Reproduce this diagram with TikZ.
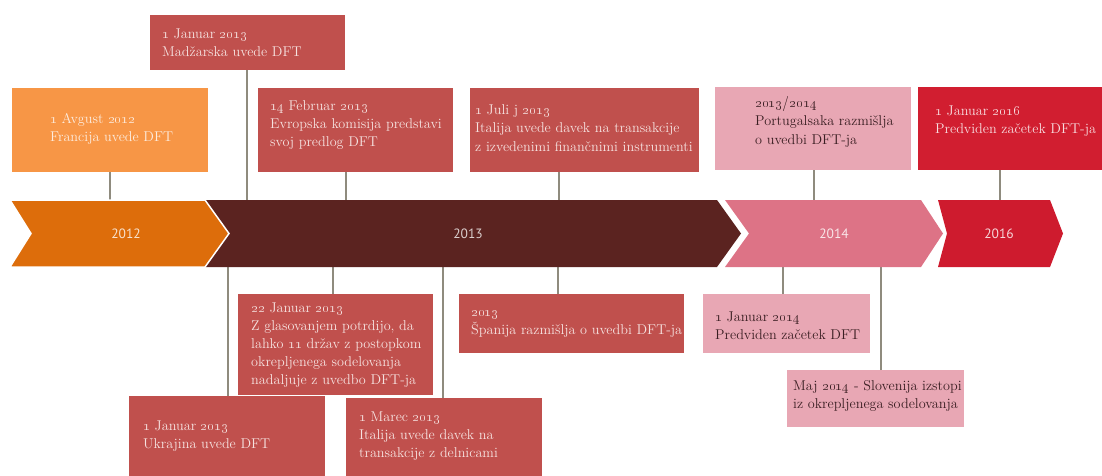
\documentclass[tikz,border=0pt]{standalone}
\usepackage{fontspec}
\newfontfamily\yearfont{PT Sans}
% old-style figures from the TS1 companion of Latin Modern
\newcommand\osn[1]{{\fontencoding{TS1}\fontfamily{lmr}\selectfont #1}}
\definecolor{boxred}{HTML}{C0504D}
\definecolor{boxorange}{HTML}{F79646}
\definecolor{boxpink}{HTML}{E8A7B4}
\definecolor{boxcrimson}{HTML}{D11E30}
\definecolor{band12}{HTML}{DD6D0B}
\definecolor{band13}{HTML}{5B2320}
\definecolor{band14}{HTML}{DD7386}
\definecolor{band16}{HTML}{CE1B2E}
\definecolor{linkgray}{HTML}{8F8B7E}
\definecolor{lighttext}{HTML}{F6E2E0}
\definecolor{darktext}{HTML}{3A1E22}
\begin{document}
\begin{tikzpicture}[x=1pt,y=-1pt,
  box/.style={anchor=north west, inner sep=0pt, draw=none},
  txt/.style={anchor=west, align=left, inner sep=0pt,
    font=\fontsize{14.2}{18.2}\selectfont, text=lighttext},
  darktxt/.style={txt, text=darktext},
  year/.style={font=\yearfont\fontsize{13.5}{15}\selectfont},
  link/.style={draw=linkgray, line width=1.4pt}]
\useasboundingbox (0,0) rectangle (1102,475);

% ---- event boxes above the time line
\node[box, fill=boxred, minimum width=195pt, minimum height=55pt] (mad) at (150,15) {};
\node[box, fill=boxorange, minimum width=196pt, minimum height=84pt] (fra) at (12,88) {};
\node[box, fill=boxred, minimum width=195pt, minimum height=84pt] (evr) at (258,88) {};
\node[box, fill=boxred, minimum width=229pt, minimum height=84pt] (jul) at (470,88) {};
\node[box, fill=boxpink, minimum width=196pt, minimum height=83pt] (por) at (715,87) {};
\node[box, fill=boxcrimson, minimum width=184pt, minimum height=83pt] (y16) at (918,87) {};

% ---- event boxes below the time line
\node[box, fill=boxred, minimum width=195pt, minimum height=101pt] (jan22) at (238,294) {};
\node[box, fill=boxred, minimum width=196pt, minimum height=80pt] (ukr) at (129,396) {};
\node[box, fill=boxred, minimum width=196pt, minimum height=78pt] (mar) at (346,398) {};
\node[box, fill=boxred, minimum width=225pt, minimum height=59pt] (spa) at (459,294) {};
\node[box, fill=boxpink, minimum width=167pt, minimum height=59pt] (j14) at (703,294) {};
\node[box, fill=boxpink, minimum width=177pt, minimum height=57pt] (maj) at (787,370) {};

% ---- texts
\node[txt] (madT) at (162,42.5) {\osn{1} Januar \osn{2013}\\Madžarska uvede DFT};
\node[txt, text=white!82!boxorange] (fraT) at (50,129) {\osn{1} Avgust \osn{2012}\\Francija uvede DFT};
\node[txt] (evrT) at (270,125) {\osn{14} Februar \osn{2013}\\Evropska komisija predstavi\\svoj predlog DFT};
\node[txt] (julT) at (475,128) {\osn{1} Juli j \osn{2013}\\Italija uvede davek na transakcije\\z izvedenimi finančnimi instrumenti};
\node[darktxt] (porT) at (755,122) {\osn{2013/2014}\\Portugalsaka razmišlja\\o uvedbi DFT-ja};
\node[txt, text=white!85!boxcrimson] (y16T) at (935,121) {\osn{1} Januar \osn{2016}\\Predviden začetek DFT-ja};

\node[txt] (jan22T) at (251,345) {\osn{22} Januar \osn{2013}\\Z glasovanjem potrdijo, da\\lahko \osn{11} držav z postopkom\\okrepljenega sodelovanja\\nadaljuje z uvedbo DFT-ja};
\node[txt] (ukrT) at (143,436) {\osn{1} Januar \osn{2013}\\Ukrajina uvede DFT};
\node[txt] (marT) at (359,436) {\osn{1} Marec \osn{2013}\\Italija uvede davek na\\transakcije z delnicami};
\node[txt] (spaT) at (471,324) {\osn{2013}\\Španija razmišlja o uvedbi DFT-ja};
\node[darktxt] (j14T) at (715,326) {\osn{1} Januar \osn{2014}\\Predviden začetek DFT};
\node[darktxt] (majT) at (793,396) {Maj \osn{2014} - Slovenija izstopi\\iz okrepljenega sodelovanja};

% ---- attachment points on the time line
\coordinate (t-fra) at (110,200);
\coordinate (t-mad) at (247,200);
\coordinate (t-evr) at (346,200);
\coordinate (t-jul) at (559,200);
\coordinate (t-por) at (814,200);
\coordinate (t-y16) at (1000,200);
\coordinate (b-ukr) at (228,267);
\coordinate (b-jan22) at (333,267);
\coordinate (b-mar) at (443,267);
\coordinate (b-spa) at (558,267);
\coordinate (b-j14) at (783,267);
\coordinate (b-maj) at (881,267);

% ---- connectors
\foreach \n in {fra,mad,evr,jul,por,y16}
  \draw[link] (\n.south -| t-\n) -- (t-\n);
\foreach \n in {ukr,jan22,mar,spa,j14,maj}
  \draw[link] (\n.north -| b-\n) -- (b-\n);

% ---- time line chevrons
\fill[band13] (200,200) -- (717,200) -- (741,233.5) -- (717,267) -- (200,267) -- cycle;
\filldraw[fill=band12, draw=white, line width=1.5pt]
  (10,200) -- (205,200) -- (229,233.5) -- (205,267) -- (10,267) -- (31,233.5) -- cycle;
\fill[band14] (725,200) -- (921,200) -- (943,233.5) -- (921,267) -- (725,267) -- (749,233.5) -- cycle;
\fill[band16] (938,200) -- (1050,200) -- (1063,233.5) -- (1050,267) -- (938,267) -- (947,233.5) -- cycle;

\node[year, text=white!80!band12] (l12) at (126,233.5) {2012};
\node[year, text=white!78!band13] (l13) at (468,233.5) {2013};
\node[year, text=white!82!band14] (l14) at (834,233.5) {2014};
\node[year, text=white!82!band16] (l16) at (999,233.5) {2016};
\end{tikzpicture}
\end{document}
